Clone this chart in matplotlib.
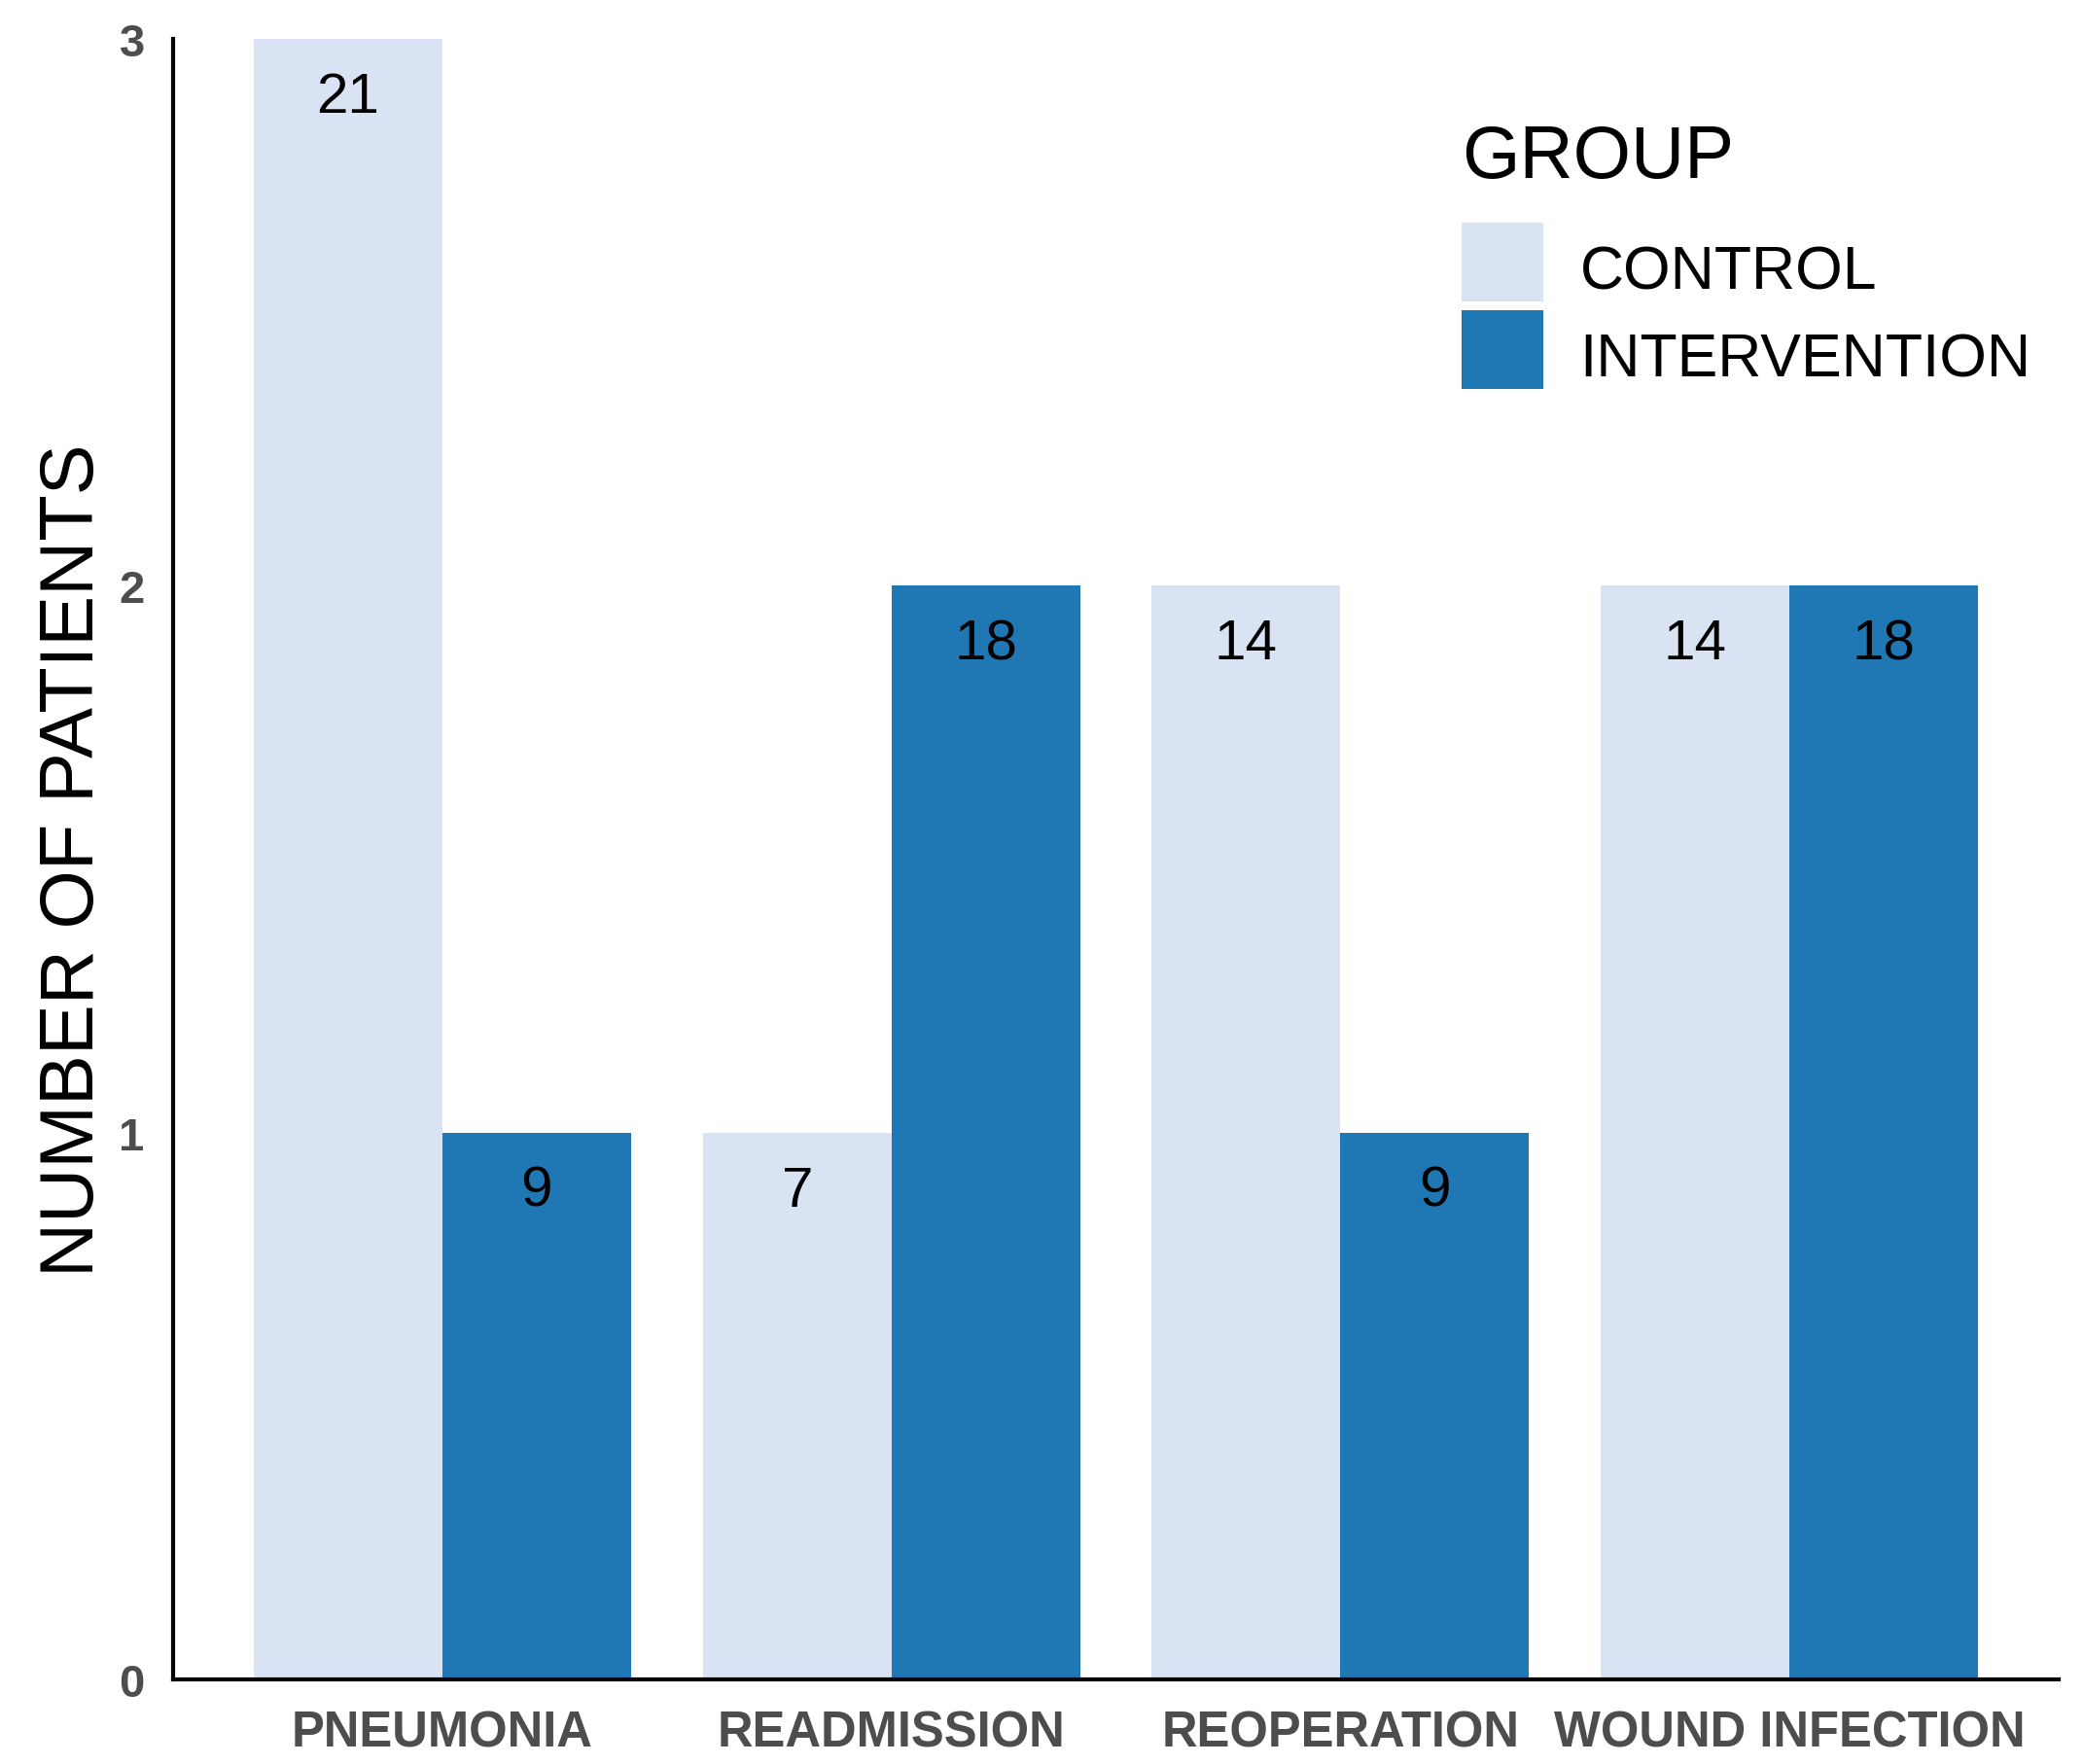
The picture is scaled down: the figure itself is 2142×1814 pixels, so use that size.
import matplotlib
matplotlib.use('Agg')
import matplotlib.pyplot as plt
import numpy as np

categories = ['PNEUMONIA', 'READMISSION', 'REOPERATION', 'WOUND INFECTION']
groups = ['CONTROL', 'INTERVENTION']
control_values = [3, 1, 2, 2]
intervention_values = [1, 2, 1, 2]
control_labels = ['21', '7', '14', '14']
intervention_labels = ['9', '18', '9', '18']
y_ticks = [0, 1, 2, 3]
colors = ['#dae3f3', '#1f77b4']

plt.rcParams['font.family'] = ['Liberation Sans', 'DejaVu Sans']
W, H = 2142, 1815
L, R, T, B = 178, 2117, 41, 1728
fig = plt.figure(figsize=(W / 100, H / 100), dpi=100)
ax = fig.add_axes([L / W, (H - B) / H, (R - L) / W, (B - T) / H])

x = np.arange(len(categories))
w = 0.42
b1 = ax.bar(x - w / 2, control_values, w, color=colors[0], label=groups[0])
b2 = ax.bar(x + w / 2, intervention_values, w, color=colors[1], label=groups[1])
for bars, labs in ((b1, control_labels), (b2, intervention_labels)):
    for rect, lab in zip(bars, labs):
        ax.annotate(lab, (rect.get_x() + rect.get_width() / 2, rect.get_height()),
                    xytext=(0, -43.2), textcoords='offset points',
                    ha='center', va='center', fontsize=42, color='black')

ax.set_xlim(-0.6, 3.6)
ax.set_ylim(0, 3)
ax.set_xticks(x)
ax.set_xticklabels(categories)
ax.set_yticks(y_ticks)
ax.set_yticklabels([str(t) for t in y_ticks])
ax.tick_params(axis='both', length=0, labelcolor='#4d4d4d')
ax.tick_params(axis='x', pad=22, labelsize=36.5)
ax.tick_params(axis='y', pad=21, labelsize=34)
for lab in ax.get_xticklabels() + ax.get_yticklabels():
    lab.set_fontweight('bold')

for s in ['top', 'right']:
    ax.spines[s].set_visible(False)
for s in ['left', 'bottom']:
    ax.spines[s].set_linewidth(3)
    ax.spines[s].set_color('black')

ax.set_ylabel('NUMBER OF PATIENTS', fontsize=56, va='center')
ax.yaxis.set_label_coords((76 - L) / (R - L), 0.5)

leg = ax.legend(title='GROUP', loc='upper left',
                bbox_to_anchor=(1503 / W, 1 - 128 / H), bbox_transform=fig.transFigure,
                frameon=False, fontsize=45, title_fontsize=55,
                handlelength=1.344, handleheight=1.616, handletextpad=0.6,
                labelspacing=0.144, borderpad=0, borderaxespad=0, alignment='left')
leg._legend_box.sep = 27.4
for p in leg.get_patches():
    p.set_y(-9.4)

fig.savefig('out.png', dpi=100, facecolor='white')
